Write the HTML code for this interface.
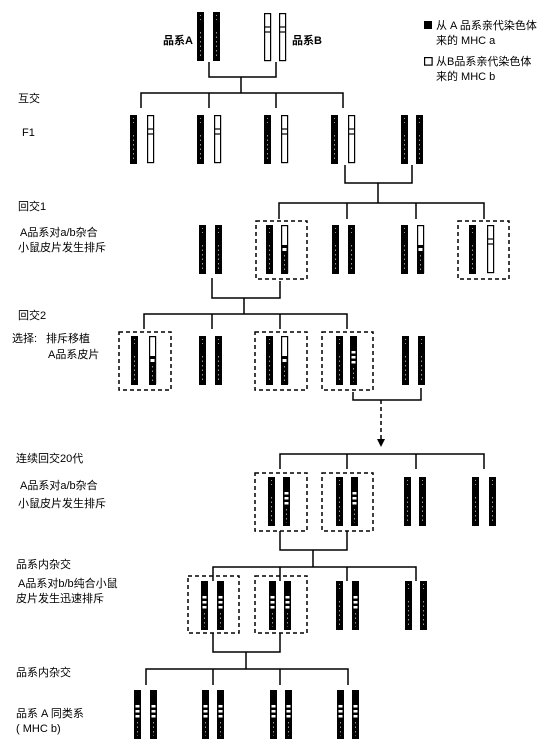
<!DOCTYPE html>
<html><head><meta charset="utf-8">
<style>
html,body{margin:0;padding:0;background:#fff;}
svg{display:block;}
text{font-family:"Liberation Sans","Noto Sans CJK SC",sans-serif;font-size:11px;fill:#000;}
.bd{font-weight:bold;}
</style></head>
<body>
<svg width="547" height="743" viewBox="0 0 547 743" xmlns="http://www.w3.org/2000/svg">
<defs>
<g id="b"><rect x="0" y="0" width="7" height="49" fill="#000"/><line x1="3.5" y1="3" x2="3.5" y2="10" stroke="#fff" stroke-width="1" stroke-dasharray="1,3" opacity="0.6"/><line x1="3.5" y1="20" x2="3.5" y2="46" stroke="#fff" stroke-width="1" stroke-dasharray="1.5,3" opacity="0.6"/></g>
<g id="w"><rect x="0.6" y="0.6" width="6" height="47" fill="#fff" stroke="#000" stroke-width="1.2"/><line x1="0.6" y1="14" x2="6.6" y2="14" stroke="#000" stroke-width="1.2"/><line x1="0.6" y1="19" x2="6.6" y2="19" stroke="#000" stroke-width="1.2"/></g>
<g id="m"><rect x="0.6" y="0.6" width="6" height="47" fill="#fff" stroke="#000" stroke-width="1.2"/><rect x="0" y="20" width="7" height="29" fill="#000"/><rect x="1.5" y="23" width="4" height="3" fill="#fff"/><line x1="3.5" y1="30" x2="3.5" y2="46" stroke="#fff" stroke-width="1" stroke-dasharray="1.5,3" opacity="0.6"/></g>
<g id="m2"><rect x="0" y="0" width="7" height="49" fill="#000"/><rect x="1.5" y="15" width="4" height="2.5" fill="#fff"/><rect x="1.5" y="20" width="4" height="2.5" fill="#fff"/><rect x="1.5" y="25" width="4" height="2.5" fill="#fff"/><line x1="3.5" y1="32" x2="3.5" y2="46" stroke="#fff" stroke-width="1" stroke-dasharray="1.5,3" opacity="0.6"/></g>
</defs>
<g fill="none" stroke="#000" stroke-width="1.5">
<path d="M209 62V77H276V62M241 77V93M141 108V93H343V108M209 93V108M276 93V108"/>
<path d="M345 165V183H412V165M378 183V203M279 219V203H484V219M347 203V219M416 203V219"/>
<path d="M212 278V298H280V281M244 298V314M144 329V314H347V329M212 314V329M280 314V329"/>
<path d="M353 392V400H421V388"/>
<path d="M280 469V454H484V469M347 454V469M416 454V469"/>
<path d="M280 531V550H347V531M313 550V567M213 581V567H416V581M280 567V581M347 567V581"/>
<path d="M213 633V652H280V633M246 652V669M146 685V669H348V685M213 669V685M280 669V685"/>
</g>
<path d="M381 400V440" stroke="#000" stroke-width="1.5" stroke-dasharray="4,3" fill="none"/>
<path d="M377 439L385 439L381 447Z" fill="#000"/>
<g fill="none" stroke="#000" stroke-width="1.5" stroke-dasharray="4,3">
<rect x="256" y="221" width="51" height="58"/>
<rect x="458" y="221" width="51" height="58"/>
<rect x="119" y="332" width="52" height="58"/>
<rect x="255" y="332" width="52" height="58"/>
<rect x="322" y="332" width="51" height="58"/>
<rect x="255" y="473" width="52" height="58"/>
<rect x="322" y="473" width="51" height="58"/>
<rect x="188" y="576" width="51" height="57"/>
<rect x="255" y="576" width="52" height="57"/>
</g>
<use href="#b" x="197" y="12"/><use href="#b" x="213" y="12"/>
<use href="#w" x="264" y="13"/><use href="#w" x="279" y="13"/>
<use href="#b" x="130" y="115"/><use href="#w" x="147" y="115"/>
<use href="#b" x="197" y="115"/><use href="#w" x="214" y="115"/>
<use href="#b" x="264" y="115"/><use href="#w" x="281" y="115"/>
<use href="#b" x="331" y="115"/><use href="#w" x="348" y="115"/>
<use href="#b" x="401" y="115"/><use href="#b" x="416" y="115"/>
<use href="#b" x="199" y="225"/><use href="#b" x="215" y="225"/>
<use href="#b" x="266" y="225"/><use href="#m" x="281" y="225"/>
<use href="#b" x="332" y="225"/><use href="#b" x="348" y="225"/>
<use href="#b" x="401" y="225"/><use href="#m" x="417" y="225"/>
<use href="#b" x="469" y="225"/><use href="#w" x="487" y="225"/>
<use href="#b" x="131" y="336"/><use href="#m" x="149" y="336"/>
<use href="#b" x="199" y="336"/><use href="#b" x="215" y="336"/>
<use href="#b" x="266" y="336"/><use href="#m" x="281" y="336"/>
<use href="#b" x="336" y="336"/><use href="#m2" x="350" y="336"/>
<use href="#b" x="402" y="336"/><use href="#b" x="418" y="336"/>
<use href="#b" x="268" y="477"/><use href="#m2" x="283" y="477"/>
<use href="#b" x="336" y="477"/><use href="#m2" x="351" y="477"/>
<use href="#b" x="404" y="477"/><use href="#b" x="419" y="477"/>
<use href="#b" x="472" y="477"/><use href="#b" x="489" y="477"/>
<use href="#m2" x="201" y="581"/><use href="#m2" x="217" y="581"/>
<use href="#m2" x="269" y="581"/><use href="#m2" x="284" y="581"/>
<use href="#b" x="336" y="581"/><use href="#m2" x="352" y="581"/>
<use href="#b" x="405" y="581"/><use href="#b" x="420" y="581"/>
<use href="#m2" x="134" y="690"/><use href="#m2" x="150" y="690"/>
<use href="#m2" x="202" y="690"/><use href="#m2" x="217" y="690"/>
<use href="#m2" x="270" y="690"/><use href="#m2" x="285" y="690"/>
<use href="#m2" x="337" y="690"/><use href="#m2" x="352" y="690"/>
<rect x="424" y="21" width="8" height="8" fill="#000"/>
<rect x="424.6" y="57.6" width="7.5" height="7.5" fill="#fff" stroke="#000" stroke-width="1.2"/>
<text x="436" y="29">从 A 品系亲代染色体</text>
<text x="436" y="44">来的 MHC a</text>
<text x="436" y="65">从B品系亲代染色体</text>
<text x="436" y="80">来的 MHC b</text>
<text x="163" y="44" class="bd">品系A</text>
<text x="292" y="44" class="bd">品系B</text>
<text x="18" y="102">互交</text>
<text x="22" y="136">F1</text>
<text x="18" y="210">回交1</text>
<text x="20" y="236">A品系对a/b杂合</text>
<text x="18" y="251">小鼠皮片发生排斥</text>
<text x="18" y="319">回交2</text>
<text x="12" y="342">选择:</text>
<text x="46" y="342">排斥移植</text>
<text x="48" y="358">A品系皮片</text>
<text x="16" y="462">连续回交20代</text>
<text x="20" y="489">A品系对a/b杂合</text>
<text x="18" y="507">小鼠皮片发生排斥</text>
<text x="16" y="568">品系内杂交</text>
<text x="18" y="587">A品系对b/b纯合小鼠</text>
<text x="16" y="602">皮片发生迅速排斥</text>
<text x="16" y="676">品系内杂交</text>
<text x="16" y="717">品系 A 同类系</text>
<text x="16" y="732">( MHC b)</text>
</svg>
</body></html>
